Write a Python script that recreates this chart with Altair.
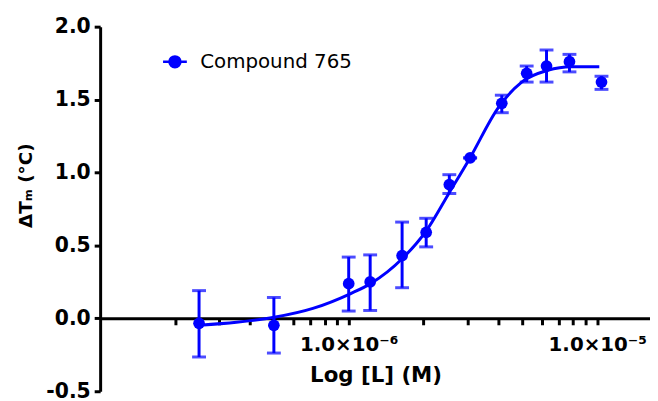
import altair as alt
import pandas as pd

# Measured data points (concentration in M, delta Tm in degC, error bar limits)
conc = [2.5e-7, 5.0e-7, 1.0e-6, 1.22e-6, 1.64e-6, 2.05e-6, 2.54e-6, 3.08e-6, 4.13e-6, 5.2e-6, 6.25e-6, 7.73e-6, 1.04e-5]
dtm = [-0.034, -0.048, 0.238, 0.25, 0.43, 0.59, 0.917, 1.10, 1.474, 1.68, 1.73, 1.76, 1.62]
err_hi = [0.19, 0.143, 0.42, 0.435, 0.66, 0.686, 0.985, 1.10, 1.53, 1.73, 1.84, 1.81, 1.66]
err_lo = [-0.265, -0.238, 0.05, 0.054, 0.21, 0.49, 0.856, 1.10, 1.41, 1.62, 1.62, 1.69, 1.57]

# Fitted curve
curve_conc = [2.512e-7, 3.532e-7, 5.012e-7, 7.178e-7, 1.019e-6, 1.225e-6, 1.644e-6, 2.051e-6,
              2.535e-6, 3.076e-6, 3.981e-6, 4.966e-6, 6.310e-6, 7.870e-6, 1.019e-5]
curve_dtm = [-0.047, -0.027, 0.007, 0.068, 0.17, 0.238, 0.41, 0.60,
             0.86, 1.10, 1.44, 1.62, 1.70, 1.725, 1.725]

series_name = "Compound 765"

# Axis ticks
x_tick_values = [2e-7, 3e-7, 4e-7, 5e-7, 6e-7, 7e-7, 8e-7, 9e-7, 1e-6,
                 2e-6, 3e-6, 4e-6, 5e-6, 6e-6, 7e-6, 8e-6, 9e-6, 1e-5]
x_major_values = [1e-6, 1e-5]
x_major_labels = ["1.0×10⁻⁶", "1.0×10⁻⁵"]
y_tick_values = [-0.5, 0.0, 0.5, 1.0, 1.5, 2.0]

BLUE = "#0000ff"
FONT = "DejaVu Sans"

pts = pd.DataFrame({"conc": conc, "dtm": dtm, "hi": err_hi, "lo": err_lo,
                    "series": [series_name] * len(conc)})
curve = pd.DataFrame({"conc": curve_conc, "dtm": curve_dtm})

label_expr = ""
for v, lab in zip(x_major_values, x_major_labels):
    label_expr += f"(datum.value > {v*0.9} && datum.value < {v*1.1}) ? '{lab}' : "
label_expr += "''"

xscale = alt.Scale(type="log", domain=[1e-7, 1.63e-5], nice=False)
yscale = alt.Scale(domain=[-0.5, 2.0], nice=False, zero=False)

x_axis = alt.Axis(
    values=x_tick_values,
    labelExpr=label_expr,
    offset=-73.6,
    ticks=True,
    tickSize=6.5,
    tickWidth=3,
    tickColor="black",
    tickOpacity=1,
    domainWidth=3,
    labelFontSize=20,
    labelPadding=10,
    labelFlush=False,
    labelOverlap=False,
    labelBound=False,
    title="Log [L] (M)",
    titleFontSize=21.5,
    titleX=278,
    titleY=47,
    titleAlign="center",
    titleBaseline="top",
)

y_axis = alt.Axis(
    values=y_tick_values,
    labelExpr="replace(format(datum.value, '.1f'), '−', '-')",
    tickSize=6,
    tickWidth=3,
    domainWidth=3,
    labelFontSize=20.5,
    labelPadding=4,
    title="ΔTₘ (°C)",
    titleFontSize=18.5,
    titleX=-75,
    titleY=160,
    titleAngle=-90,
    titleAlign="center",
    titleBaseline="middle",
)

x_enc = alt.X("conc:Q", scale=xscale, axis=x_axis)
y_enc = alt.Y("dtm:Q", scale=yscale, axis=y_axis)

line = alt.Chart(curve).mark_line(color=BLUE, strokeWidth=3, interpolate="monotone").encode(
    x=x_enc, y=y_enc)

bars = alt.Chart(pts).mark_rule(color=BLUE, strokeWidth=3).encode(
    x=alt.X("conc:Q", scale=xscale), y=alt.Y("lo:Q", scale=yscale), y2="hi:Q")

cap_hi = alt.Chart(pts).mark_tick(color=BLUE, orient="horizontal", size=14, thickness=3).encode(
    x=alt.X("conc:Q", scale=xscale), y=alt.Y("hi:Q", scale=yscale))
cap_lo = alt.Chart(pts).mark_tick(color=BLUE, orient="horizontal", size=14, thickness=3).encode(
    x=alt.X("conc:Q", scale=xscale), y=alt.Y("lo:Q", scale=yscale))

symbol_path = "M-1,0H1M-0.46,0A0.46,0.46,0,1,0,0.46,0A0.46,0.46,0,1,0,-0.46,0Z"

points = alt.Chart(pts).mark_point(filled=True, size=140, opacity=1).encode(
    x=alt.X("conc:Q", scale=xscale),
    y=alt.Y("dtm:Q", scale=yscale),
    color=alt.Color("series:N", scale=alt.Scale(domain=[series_name], range=[BLUE]),
                    legend=alt.Legend(
                        title=None, orient="none", legendX=62, legendY=22,
                        symbolType=symbol_path, symbolSize=576,
                        symbolFillColor=BLUE, symbolStrokeColor=BLUE,
                        symbolStrokeWidth=2.5, symbolOpacity=1,
                        labelFont=FONT, labelFontSize=20, labelColor="black",
                        labelOffset=12, padding=0)),
)

chart = alt.layer(line, bars, cap_hi, cap_lo, points).properties(
    width=555, height=368,
    autosize=alt.AutoSizeParams(type="none"),
    padding={"left": 93, "top": 17, "right": 0, "bottom": 8},
).configure_view(stroke=None).configure_axis(
    grid=False, domainColor="black", tickColor="black", labelColor="black",
    titleColor="black", labelFont=FONT, titleFont=FONT,
    labelFontWeight="bold", titleFontWeight="bold",
)

chart.save("out.html", embed_options={"renderer": "svg", "actions": False})
